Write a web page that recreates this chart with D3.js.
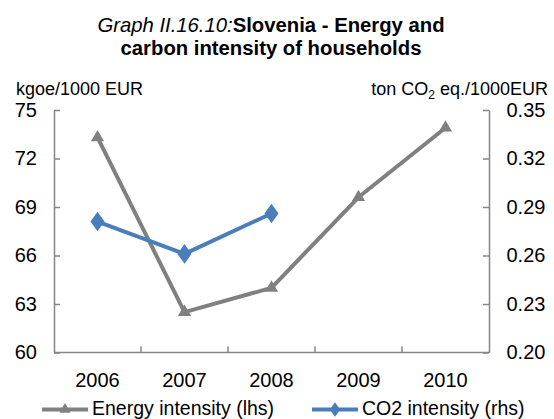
<!DOCTYPE html>
<html><head><meta charset="utf-8">
<script src="https://cdn.jsdelivr.net/npm/d3@7/dist/d3.min.js"></script>
<style>
body{margin:0;background:#fff;}
svg{display:block;font-family:"Liberation Sans",Arial,sans-serif;}
</style></head>
<body><svg id="c" width="554" height="419"></svg>
<script>
const years = ["2006","2007","2008","2009","2010"];
const energyIntensity = [73.3, 62.5, 64.0, 69.6, 73.9];
const co2Intensity = [0.281, 0.261, 0.286];
const leftTicks = [60, 63, 66, 69, 72, 75];
const rightTicks = [0.20, 0.23, 0.26, 0.29, 0.32, 0.35];
const seriesNames = ["Energy intensity (lhs)", "CO2 intensity (rhs)"];

const svg = d3.select("#c");
const L = 54, R = 489, T = 110, B = 352.5;
const gray = "#808080", blue = "#4a7ebb", axisCol = "#868686";

const x = d3.scaleBand().domain(years).range([L, R]).padding(0);
const yL = d3.scaleLinear().domain([60, 75]).range([B, T]);
const yR = d3.scaleLinear().domain([0.20, 0.35]).range([B, T]);
const cx = d => x(d) + x.bandwidth() / 2;

// title
const title = svg.append("text").attr("text-anchor", "middle").attr("font-size", 20.3).attr("fill", "#000");
title.append("tspan").attr("x", 271).attr("y", 31.8).attr("font-style", "italic").text("Graph II.16.10:");
title.append("tspan").attr("font-weight", "bold").text("Slovenia - Energy and");
title.append("tspan").attr("x", 271).attr("y", 54.8).attr("font-weight", "bold").text("carbon intensity of households");

// unit labels
svg.append("text").attr("x", 16).attr("y", 94.5).attr("font-size", 18).text("kgoe/1000 EUR");
const ru = svg.append("text").attr("x", 548).attr("y", 94.5).attr("font-size", 18).attr("text-anchor", "end");
ru.append("tspan").text("ton CO");
ru.append("tspan").attr("font-size", 12).attr("dy", 4).text("2");
ru.append("tspan").attr("dy", -4).text(" eq./1000EUR");

// axes
function styleAxis(g){
  g.selectAll("path.domain").attr("stroke", axisCol).attr("stroke-width", 1.5);
  g.selectAll(".tick line").attr("stroke", axisCol).attr("stroke-width", 1.5);
  g.selectAll(".tick text").attr("font-size", 20).attr("fill", "#000").attr("font-family", "Liberation Sans, Arial, sans-serif");
}
const gl = svg.append("g").attr("transform", `translate(${L},0)`)
  .call(d3.axisLeft(yL).tickValues(leftTicks).tickFormat(d3.format("d")).tickSizeInner(-6).tickSizeOuter(0).tickPadding(17));
styleAxis(gl);
const gr = svg.append("g").attr("transform", `translate(${R},0)`)
  .call(d3.axisRight(yR).tickValues(rightTicks).tickFormat(d3.format(".2f")).tickSizeInner(-6).tickSizeOuter(0).tickPadding(17.5));
styleAxis(gr);
const gb = svg.append("g").attr("transform", `translate(0,${B})`)
  .call(d3.axisBottom(x).tickSize(0).tickPadding(20.5));
styleAxis(gb);
gb.select("path.domain").attr("d", `M${L},0H${R}`);
gb.selectAll(".boundary").data(years.slice(1)).enter().append("line")
  .attr("x1", d => x(d)).attr("x2", d => x(d)).attr("y1", 0).attr("y2", -6)
  .attr("stroke", axisCol).attr("stroke-width", 1.5);

// energy line
const lineE = d3.line().x((d, i) => cx(years[i])).y(d => yL(d));
svg.append("path").datum(energyIntensity).attr("d", lineE)
  .attr("fill", "none").attr("stroke", gray).attr("stroke-width", 4).attr("stroke-linejoin", "round");
const tri = d3.symbol().type(d3.symbolTriangle).size(75);
svg.selectAll(".tri").data(energyIntensity).enter().append("path")
  .attr("d", tri).attr("transform", (d, i) => `translate(${cx(years[i])},${yL(d)})`).attr("fill", gray);

// co2 line
const lineC = d3.line().x((d, i) => cx(years[i])).y(d => yR(d));
svg.append("path").datum(co2Intensity).attr("d", lineC)
  .attr("fill", "none").attr("stroke", blue).attr("stroke-width", 4).attr("stroke-linejoin", "round");
const dia = d3.symbol().type(d3.symbolDiamond).size(110);
svg.selectAll(".dia").data(co2Intensity).enter().append("path")
  .attr("d", dia).attr("transform", (d, i) => `translate(${cx(years[i])},${yR(d)}) scale(1.25,1)`).attr("fill", blue);

// legend
const legY = 409.5;
const leg = [
  {name: seriesNames[0], col: gray, x0: 42, sym: d3.symbol().type(d3.symbolTriangle).size(55), sx: 1},
  {name: seriesNames[1], col: blue, x0: 312, sym: d3.symbol().type(d3.symbolDiamond).size(60), sx: 1.25}
];
const lg = svg.selectAll(".leg").data(leg).enter().append("g");
lg.append("line").attr("x1", d => d.x0).attr("x2", d => d.x0 + 46).attr("y1", legY).attr("y2", legY)
  .attr("stroke", d => d.col).attr("stroke-width", 4);
lg.append("path").attr("d", d => d.sym()).attr("fill", d => d.col)
  .attr("transform", d => `translate(${d.x0 + 23},${legY}) scale(${d.sx},1)`);
lg.append("text").attr("x", d => d.x0 + 50).attr("y", legY + 5.5).attr("font-size", 19.5).text(d => d.name);
</script></body></html>
